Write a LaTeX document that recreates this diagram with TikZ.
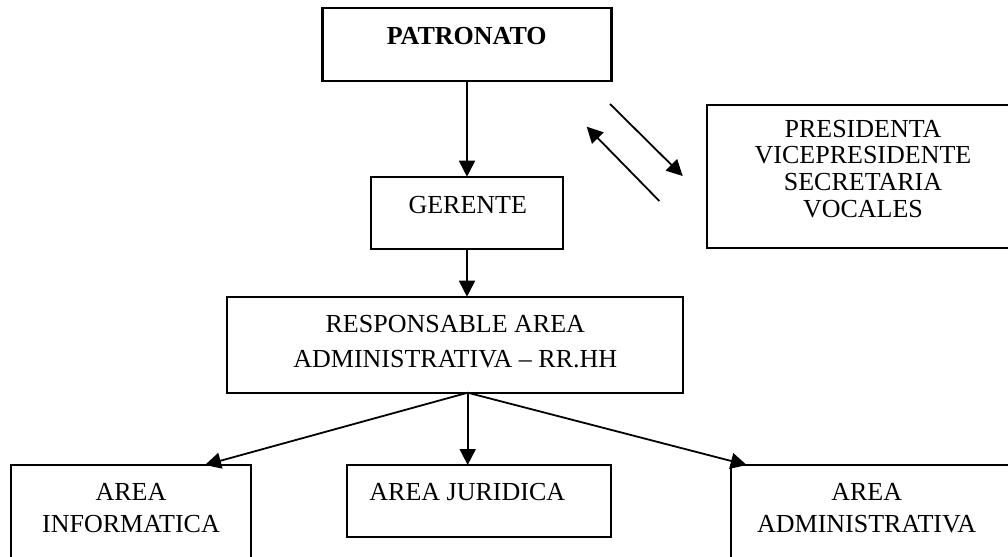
\documentclass[tikz,border=0pt]{standalone}
\usepackage{fontspec}
\setmainfont{Liberation Serif}
\usetikzlibrary{arrows.meta}
\newcommand{\mlines}[2]{\parbox[t]{8cm}{\centering\fontsize{13pt}{#1}\selectfont #2}}
\begin{document}
\begin{tikzpicture}[x=0.5pt,y=-0.5pt,
  box/.style={draw,line width=1.1pt,inner sep=0pt,outer sep=0pt},
  lbl/.style={anchor=base,inner sep=0pt,font=\fontsize{13pt}{15pt}\selectfont},
  conn/.style={line width=0.9pt,-{Triangle[length=8pt,width=8pt]}}]
\useasboundingbox (0,0) rectangle (1008,557);
\clip (0,0) rectangle (1008,557);
% boxes
\node[box,minimum width=144.5pt,minimum height=36.2pt] (pat) at (467,44.5) {};
\node[box,minimum width=96.3pt,minimum height=36.15pt] (ger) at (467,212.85) {};
\node[box,minimum width=156.65pt,minimum height=71.65pt] (pres) at (863.35,176.65) {};
\node[box,minimum width=228pt,minimum height=48pt] (resp) at (455.3,344.7) {};
\node[box,minimum width=120pt,minimum height=57.5pt] (inf) at (131,522.5) {};
\node[box,minimum width=132.15pt,minimum height=35.85pt] (jur) at (478.85,500.85) {};
\node[box,minimum width=144.5pt,minimum height=57.5pt] (adm) at (875.5,522.5) {};
% texts
\node[lbl,font=\fontsize{13pt}{15pt}\selectfont\bfseries] (tpat) at (466.7,45) {PATRONATO};
\node[lbl] (tger) at (467.8,213) {GERENTE};
\node[lbl] (tpres) at (863,137.3) {\mlines{13.33pt}{PRESIDENTA\\VICEPRESIDENTE\\SECRETARIA\\VOCALES}};
\node[lbl] (tresp) at (455.3,332.7) {\mlines{17.35pt}{RESPONSABLE AREA\\ADMINISTRATIVA – RR.HH}};
\node[lbl] (tinf) at (131,500) {\mlines{16.35pt}{AREA\\INFORMATICA}};
\node[lbl] (tjur) at (467.3,500.7) {AREA JURIDICA};
\node[lbl] (tadm) at (866.7,500) {\mlines{16.2pt}{AREA\\ADMINISTRATIVA}};
% connectors
\draw[conn] (pat.south) -- (pat.south |- ger.north);
\draw[conn] (ger.south) -- (ger.south |- resp.north);
\coordinate (d1s) at (610,104);
\coordinate (d1e) at (682.7,176);
\coordinate (d2s) at (659.3,201);
\coordinate (d2e) at (586.7,126.7);
\draw[conn] (d1s) -- (d1e);
\draw[conn] (d2s) -- (d2e);
\coordinate (rb) at (467.7,392.7);
\coordinate (infT) at (205,465);
\coordinate (admT) at (746.7,465);
\draw[conn] (rb) -- (infT);
\draw[conn] (rb) -- (rb |- jur.north);
\draw[conn] (rb) -- (admT);
\end{tikzpicture}
\end{document}
